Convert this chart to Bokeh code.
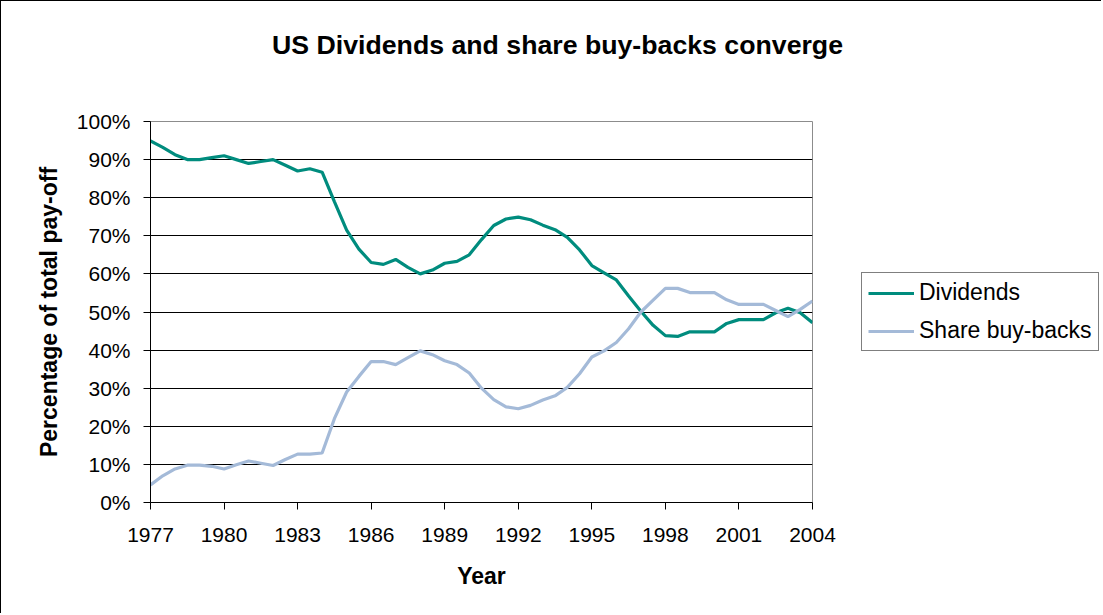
from bokeh.plotting import figure
from bokeh.layouts import column, row
from bokeh.models import Legend, LegendItem, FixedTicker, PrintfTickFormatter, Range1d, Label
from bokeh.embed import file_html
from bokeh.resources import INLINE

# ---- data (half-yearly readings) ----
years = [1977.0, 1977.5, 1978.0, 1978.5, 1979.0, 1979.5, 1980.0, 1980.5, 1981.0, 1981.5,
         1982.0, 1982.5, 1983.0, 1983.5, 1984.0, 1984.5, 1985.0, 1985.5, 1986.0, 1986.5,
         1987.0, 1987.5, 1988.0, 1988.5, 1989.0, 1989.5, 1990.0, 1990.5, 1991.0, 1991.5,
         1992.0, 1992.5, 1993.0, 1993.5, 1994.0, 1994.5, 1995.0, 1995.5, 1996.0, 1996.5,
         1997.0, 1997.5, 1998.0, 1998.5, 1999.0, 1999.5, 2000.0, 2000.5, 2001.0, 2001.5,
         2002.0, 2002.5, 2003.0, 2003.5, 2004.0]
dividends = [94.9, 93.2, 91.3, 90.0, 90.0, 90.5, 91.0, 90.0, 89.0, 89.5,
             90.0, 88.5, 87.0, 87.6, 86.7, 79.0, 71.5, 66.5, 63.0, 62.5,
             63.8, 61.7, 60.0, 61.0, 62.8, 63.3, 65.0, 69.0, 72.7, 74.4,
             74.9, 74.2, 72.8, 71.6, 69.6, 66.3, 62.2, 60.3, 58.4, 54.2,
             50.2, 46.5, 43.8, 43.6, 44.8, 44.8, 44.8, 47.0, 48.0, 48.0,
             48.0, 49.8, 51.0, 49.8, 47.2]
buybacks = [4.6, 7.0, 8.8, 9.8, 9.8, 9.5, 8.8, 9.9, 10.9, 10.3,
            9.7, 11.3, 12.7, 12.7, 13.0, 22.0, 29.0, 33.1, 37.0, 37.0,
            36.2, 38.0, 39.8, 38.8, 37.2, 36.2, 34.0, 30.0, 27.0, 25.1,
            24.6, 25.5, 26.9, 28.0, 30.2, 33.8, 38.2, 39.8, 42.0, 45.6,
            50.0, 53.1, 56.2, 56.2, 55.1, 55.1, 55.1, 53.2, 52.0, 52.0,
            52.0, 50.4, 48.8, 50.7, 52.9]
x_ticks = [1977, 1980, 1983, 1986, 1989, 1992, 1995, 1998, 2001, 2004]
y_ticks = [0, 10, 20, 30, 40, 50, 60, 70, 80, 90, 100]
series_names = ["Dividends", "Share buy-backs"]
title_text = "US Dividends and share buy-backs converge"
x_label = "Year"
y_label = "Percentage of total pay-off"

FONT = "Liberation Sans"
COL_DIV = "#008C7E"
COL_BUY = "#A4BAD8"
LW = 3.2


def bare(fig):
    fig.background_fill_color = "white"
    fig.border_fill_color = "white"
    fig.outline_line_color = None
    fig.xgrid.visible = False
    fig.ygrid.visible = False
    return fig


# ---- title strip ----
pt = bare(figure(width=1100, height=100, output_backend="svg", toolbar_location=None,
                 x_range=Range1d(0, 1100), y_range=Range1d(0, 100),
                 x_axis_type=None, y_axis_type=None,
                 min_border_left=0, min_border_right=0, min_border_top=0, min_border_bottom=0))
pt.add_layout(Label(x=556, y=56.5, text=title_text, text_font=FONT, text_font_style="bold",
                    text_font_size="26.7px", text_color="black",
                    text_align="center", text_baseline="middle"))

# ---- main chart ----
p = figure(frame_width=662, frame_height=381, output_backend="svg", toolbar_location=None,
           x_range=Range1d(1977, 2004), y_range=Range1d(0, 100),
           min_border_left=149, min_border_top=20, min_border_right=30,
           min_border_bottom=111)
p.background_fill_color = "white"
p.border_fill_color = "white"
p.outline_line_color = "#8c8c8c"
p.outline_line_width = 1

r1 = p.line(years, dividends, line_color=COL_DIV, line_width=LW)
r2 = p.line(years, buybacks, line_color=COL_BUY, line_width=LW)

p.xaxis.ticker = FixedTicker(ticks=x_ticks)
p.yaxis.ticker = FixedTicker(ticks=y_ticks)
p.yaxis.formatter = PrintfTickFormatter(format="%d%%")
for ax in (p.xaxis[0], p.yaxis[0]):
    ax.axis_line_color = "black"
    ax.axis_line_width = 1
    ax.major_tick_line_color = "black"
    ax.major_tick_in = 0
    ax.major_tick_out = 7
    ax.minor_tick_line_color = None
    ax.major_label_text_font = FONT
    ax.major_label_text_font_size = "21px"
    ax.major_label_text_color = "black"
    ax.axis_label_text_font = FONT
    ax.axis_label_text_font_style = "bold"
    ax.axis_label_text_font_size = "23px"
    ax.axis_label_text_color = "black"
p.xaxis.major_label_standoff = 18
p.yaxis.major_label_standoff = 13
p.xaxis.axis_label = x_label
p.yaxis.axis_label = y_label
p.xaxis.axis_label_standoff = 18
p.yaxis.axis_label_standoff = 12

p.xgrid.visible = False
p.ygrid.ticker = FixedTicker(ticks=y_ticks[1:-1])
p.ygrid.grid_line_color = "black"
p.ygrid.grid_line_width = 1

# ---- legend strip (same series, kept out of view; only the legend shows) ----
pl = bare(figure(width=259, height=512, output_backend="svg", toolbar_location=None,
                 x_range=Range1d(0, 1), y_range=Range1d(0, 1),
                 x_axis_type=None, y_axis_type=None,
                 min_border_left=0, min_border_right=0, min_border_top=0, min_border_bottom=0))
l1 = pl.line(years, dividends, line_color=COL_DIV, line_width=LW)
l2 = pl.line(years, buybacks, line_color=COL_BUY, line_width=LW)
legend = Legend(items=[LegendItem(label=series_names[0], renderers=[l1]),
                       LegendItem(label=series_names[1], renderers=[l2])],
                location=(19, 151), orientation="vertical",
                border_line_color="black", border_line_width=1,
                background_fill_color="white", background_fill_alpha=1,
                label_text_font=FONT, label_text_font_size="23px", label_text_color="black",
                glyph_width=46, glyph_height=24, label_height=24, label_standoff=5,
                padding=6, spacing=11, margin=0)
pl.add_layout(legend)

layout = column(pt, row(p, pl, spacing=0), spacing=0,
                styles={"border-left": "1px solid black", "border-top": "1px solid black"})

open("out.html", "w").write(file_html(layout, INLINE))
